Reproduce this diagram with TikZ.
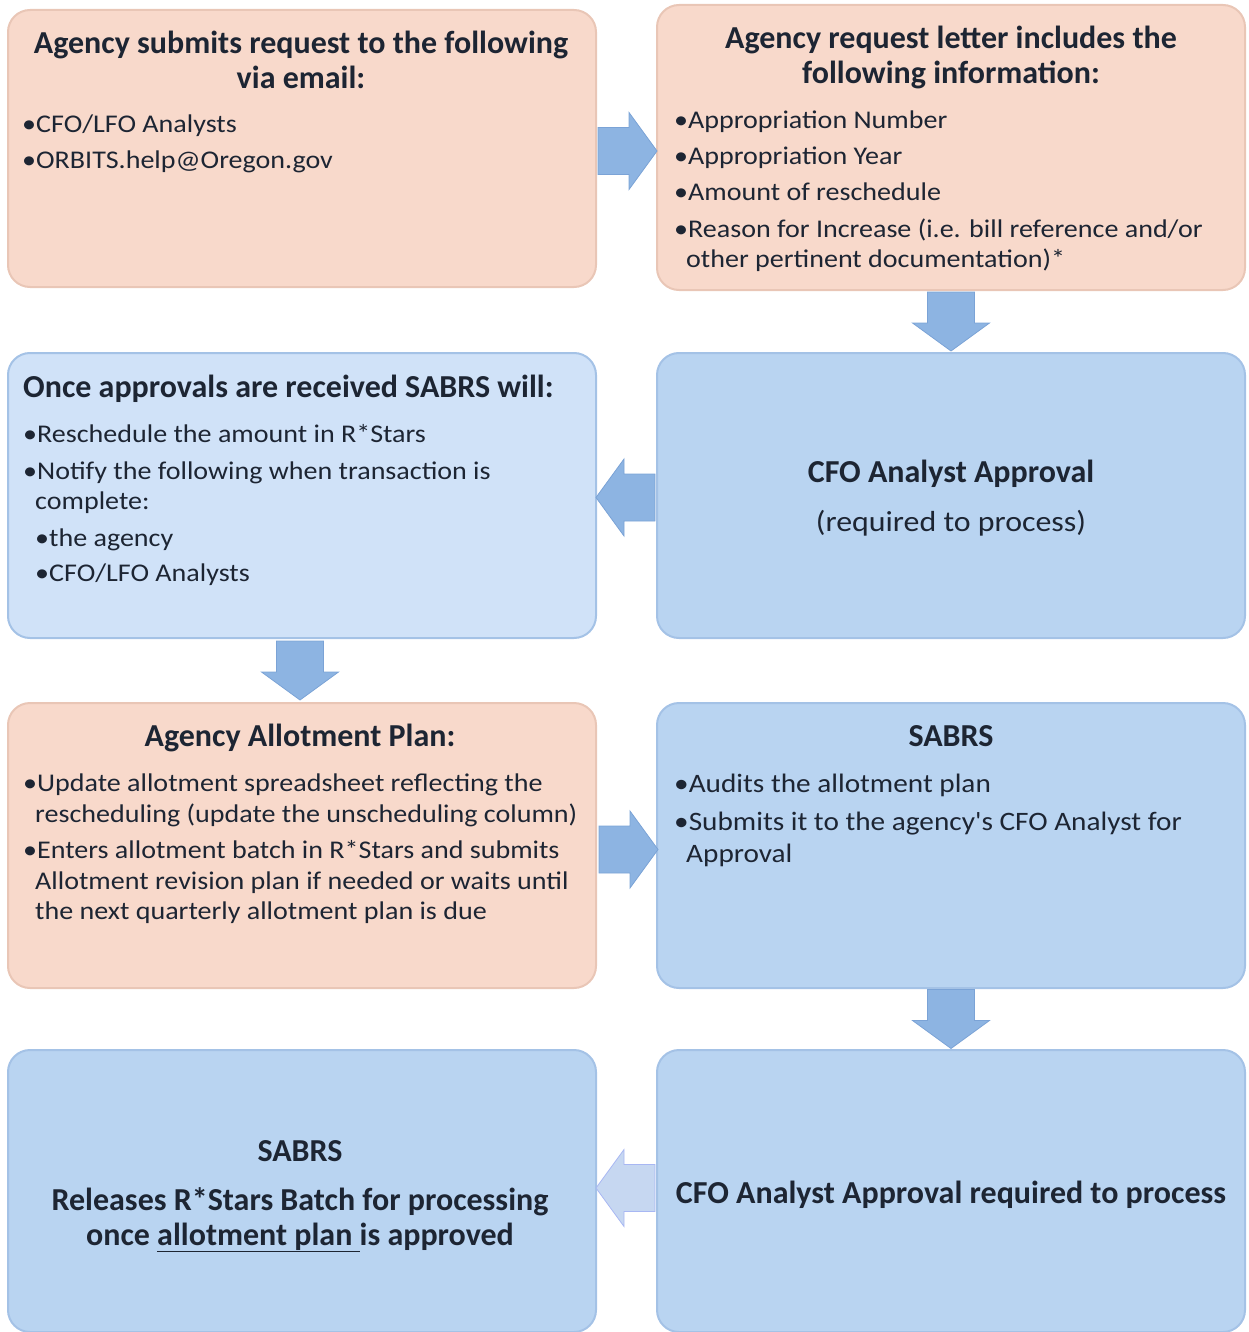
\documentclass[tikz,border=0pt]{standalone}
\usepackage{fontspec}
\setmainfont{Carlito}
\newfontfamily\bodyfont[FakeStretch=1.1]{Carlito}
\usetikzlibrary{calc}
\definecolor{peach}{HTML}{F8D9CB}
\definecolor{peachedge}{HTML}{E9C6B6}
\definecolor{bluebox}{HTML}{B9D4F1}
\definecolor{blueedge}{HTML}{A4C2E6}
\definecolor{lightblue}{HTML}{D0E2F8}
\definecolor{arrowblue}{HTML}{8DB4E2}
\definecolor{arrowedge}{HTML}{7BA3D6}
\definecolor{arrowlight}{HTML}{C6D7F1}
\definecolor{txt}{HTML}{1D2533}
\tikzset{
  box/.style={rounded corners=22pt, line width=2pt, minimum width=588pt, inner sep=0pt},
  peachbox/.style={box, fill=peach, draw=peachedge},
  bluebx/.style={box, fill=bluebox, draw=blueedge},
  lightbx/.style={box, fill=lightblue, draw=blueedge},
  head/.style={font=\fontsize{32}{36}\selectfont\bfseries, text=txt, inner sep=0pt, anchor=base},
  headl/.style={head, anchor=base west},
  body/.style={font=\bodyfont\fontsize{25.5}{30}\selectfont, text=txt, inner sep=0pt, anchor=base west},
  bodybig/.style={body, font=\bodyfont\fontsize{26.6}{31}\selectfont},
  bodyc/.style={body, anchor=base, font=\bodyfont\fontsize{29}{34}\selectfont},
  blockarrow/.pic={
    \filldraw[line width=0.8pt, pic actions]
      (-29.5,-23.5) -- (1.5,-23.5) -- (1.5,-38.5) -- (29.5,0) -- (1.5,38.5) -- (1.5,23.5) -- (-29.5,23.5) -- cycle;
  },
  arr/.style={fill=arrowblue, draw=arrowedge},
  arrl/.style={fill=arrowlight, draw=arrowlight!85!blue},
}
\begin{document}
\begin{tikzpicture}[x=1pt, y=-1pt]
\useasboundingbox (0,0) rectangle (1248,1332);
% boxes
\node[peachbox, minimum height=277pt] (b1) at (302,148.5) {};
\node[peachbox, minimum height=285pt] (b2) at (951,147.5) {};
\node[lightbx, minimum height=285pt] (b3) at (302,495.5) {};
\node[bluebx, minimum height=285pt] (b4) at (951,495.5) {};
\node[peachbox, minimum height=285pt] (b5) at (302,845.5) {};
\node[bluebx, minimum height=285pt] (b6) at (951,845.5) {};
\node[bluebx, minimum height=282pt] (b7) at (302,1191) {};
\node[bluebx, minimum height=282pt] (b8) at (951,1191) {};
% arrows
\coordinate (a1) at ($(b1.east)!0.5!(b2.west)+(1,3)$);
\coordinate (a2) at ($(b2.south)!0.5!(b4.north)$);
\coordinate (a3) at ($(b4.west)!0.5!(b3.east)+(-1,2)$);
\coordinate (a4) at ($(b3.south)!0.5!(b5.north)+(-2,0)$);
\coordinate (a5) at ($(b5.east)!0.5!(b6.west)+(2,4)$);
\coordinate (a6) at ($(b6.south)!0.5!(b8.north)$);
\coordinate (a7) at ($(b8.west)!0.5!(b7.east)+(-1,-3)$);
\pic[arr] at (a1) {blockarrow};
\pic[arr, rotate=-90] at (a2) {blockarrow};
\pic[arr, rotate=180] at (a3) {blockarrow};
\pic[arr, rotate=-90] at (a4) {blockarrow};
\pic[arr] at (a5) {blockarrow};
\pic[arr, rotate=-90] at (a6) {blockarrow};
\pic[arrl, rotate=180] at (a7) {blockarrow};
% box 1
\node[head] (t1a) at (301,54) {Agency submits request to the following};
\node[head] (t1b) at (301,89) {via email:};
\node[body] (t1c) at (22,133) {•CFO/LFO Analysts};
\node[body] (t1d) at (22,169) {•ORBITS.help@Oregon.gov};
% box 2
\node[head] (t2a) at (951,49) {Agency request letter includes the};
\node[head] (t2b) at (951,84) {following information:};
\node[body] (t2c) at (674,129) {•Appropriation Number};
\node[body] (t2d) at (674,165) {•Appropriation Year};
\node[body] (t2e) at (674,201) {•Amount of reschedule};
\node[body] (t2f) at (674,237) {•Reason for Increase (i.e. bill reference and/or};
\node[body] (t2g) at (686,268) {other pertinent documentation)*};
% box 3
\node[headl] (t3a) at (23,397) {Once approvals are received SABRS will:};
\node[body] (t3b) at (23,442) {•Reschedule the amount in R*Stars};
\node[body] (t3c) at (23,479) {•Notify the following when transaction is};
\node[body] (t3d) at (35,509) {complete:};
\node[body] (t3e) at (35,546) {•the agency};
\node[body] (t3f) at (35,581) {•CFO/LFO Analysts};
% box 4
\node[head] (t4a) at (951,482) {CFO Analyst Approval};
\node[bodyc] (t4b) at (951,531) {(required to process)};
% box 5
\node[head] (t5a) at (300,746) {Agency Allotment Plan:};
\node[body] (t5b) at (23,791) {•Update allotment spreadsheet reflecting the};
\node[body] (t5c) at (35,822) {rescheduling (update the unscheduling column)};
\node[body] (t5d) at (23,858) {•Enters allotment batch in R*Stars and submits};
\node[body] (t5e) at (35,889) {Allotment revision plan if needed or waits until};
\node[body] (t5f) at (35,919) {the next quarterly allotment plan is due};
% box 6
\node[head] (t6a) at (951,746) {SABRS};
\node[bodybig] (t6b) at (674,792) {•Audits the allotment plan};
\node[bodybig] (t6c) at (674,830) {•Submits it to the agency's CFO Analyst for};
\node[bodybig] (t6d) at (686,862) {Approval};
% box 7
\node[head] (t7a) at (300,1161) {SABRS};
\node[head] (t7b) at (300,1210) {Releases R*Stars Batch for processing};
\node[head] (t7c) at (300,1245) {once \underline{allotment plan\ }is approved};
% box 8
\node[head] (t8a) at (951,1203) {CFO Analyst Approval required to process};
\end{tikzpicture}
\end{document}
